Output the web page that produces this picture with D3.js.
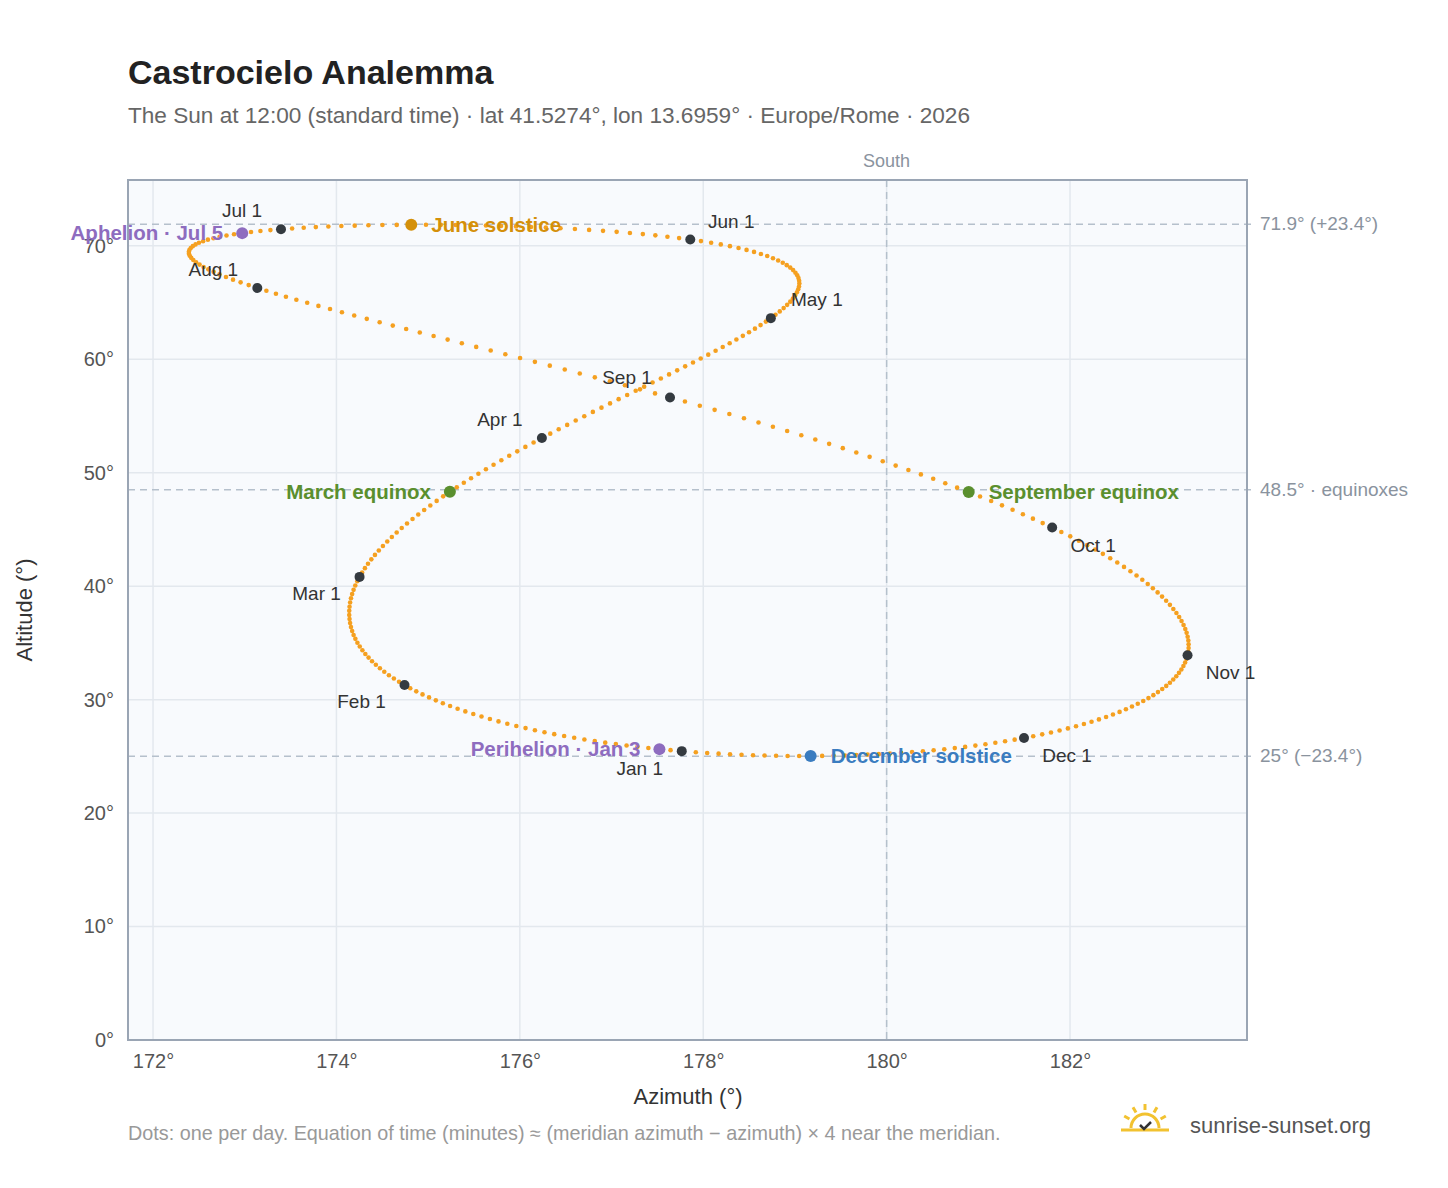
<!DOCTYPE html>
<html><head><meta charset="utf-8">
<script src="https://cdn.jsdelivr.net/npm/d3@7"></script>
<style>body{margin:0;background:#fff;font-family:"Liberation Sans",Arial,sans-serif}</style>
</head><body><svg id="c" width="1448" height="1188"></svg>
<script>
// ---- data ----
const YEAR = 2026, LAT = 41.5274, LON = 13.6959, TZ = 1, CLOCK_HOUR = 12;
const xTicks = [172,174,176,178,180,182];
const yTicks = [0,10,20,30,40,50,60,70];
const monthLabels = ["Jan 1","Feb 1","Mar 1","Apr 1","May 1","Jun 1","Jul 1","Aug 1","Sep 1","Oct 1","Nov 1","Dec 1"];
const monthDx = [-42,-43,-43,-42,46,41,-39,-44,-43,41,43,43];
const monthDy = [18,17,17,-18,-18,-18,-18,-18,-19,18,18,18];
const eventNames = ["Perihelion · Jan 3","March equinox","June solstice","Aphelion · Jul 5","September equinox","December solstice"];
const eventDates = [[0,3],[2,20],[5,21],[6,5],[8,23],[11,21]];
const eventColors = ["#8e6cbf","#5a8f2e","#d4900a","#8e6cbf","#5a8f2e","#3a7cc0"];
const eventSide = ["left","left","right","left","right","right"];
const refAlts = [71.9,48.5,25];
const refLabels = ["71.9° (+23.4°)","48.5° · equinoxes","25° (−23.4°)"];

// sun position (NOAA spreadsheet / Meeus)
const rad = Math.PI/180;
function sunAt(date){
  const utcH = CLOCK_HOUR - TZ;
  const jd = (date.getTime() + utcH*3600e3)/864e5 + 2440587.5;
  const T = (jd-2451545)/36525;
  const L0 = ((280.46646 + T*(36000.76983+T*0.0003032))%360+360)%360;
  const M = 357.52911 + T*(35999.05029 - 0.0001537*T);
  const e = 0.016708634 - T*(0.000042037+0.0000001267*T);
  const C = Math.sin(M*rad)*(1.914602 - T*(0.004817+0.000014*T)) + Math.sin(2*M*rad)*(0.019993-0.000101*T) + Math.sin(3*M*rad)*0.000289;
  const om = 125.04 - 1934.136*T;
  const lam = L0 + C - 0.00569 - 0.00478*Math.sin(om*rad);
  const eps0 = 23 + (26 + (21.448 - T*(46.815 + T*(0.00059 - T*0.001813)))/60)/60;
  const eps = eps0 + 0.00256*Math.cos(om*rad);
  const dec = Math.asin(Math.sin(eps*rad)*Math.sin(lam*rad));
  const yy = Math.tan(eps*rad/2)**2;
  const eqt = 4/rad*(yy*Math.sin(2*L0*rad) - 2*e*Math.sin(M*rad) + 4*e*yy*Math.sin(M*rad)*Math.cos(2*L0*rad) - 0.5*yy*yy*Math.sin(4*L0*rad) - 1.25*e*e*Math.sin(2*M*rad));
  const tst = CLOCK_HOUR*60 + eqt + 4*LON - 60*TZ;
  const ha = (tst/4-180)*rad, lat = LAT*rad;
  const sinAlt = Math.sin(lat)*Math.sin(dec)+Math.cos(lat)*Math.cos(dec)*Math.cos(ha);
  const alt = Math.asin(sinAlt)/rad;
  const az = Math.atan2(Math.sin(ha), Math.cos(ha)*Math.sin(lat)-Math.tan(dec)*Math.cos(lat))/rad+180;
  return {az,alt};
}
const days = d3.utcDays(new Date(Date.UTC(YEAR,0,1)), new Date(Date.UTC(YEAR+1,0,1))).map(sunAt);

// ---- chart ----
const svg = d3.select("#c");
const L=128,R=1247,T=180,B=1040;
const x = d3.scaleLinear().domain([171.727,183.93]).range([L,R]);
const y = d3.scaleLinear().domain([0,75.8]).range([B,T]);

svg.append("text").attr("x",128).attr("y",84).attr("font-size",34).attr("font-weight","bold").attr("fill","#222").text("Castrocielo Analemma");
svg.append("text").attr("x",128).attr("y",123).attr("font-size",22.6).attr("fill","#666").text("The Sun at 12:00 (standard time) · lat 41.5274°, lon 13.6959° · Europe/Rome · 2026");

svg.append("rect").attr("x",L).attr("y",T).attr("width",R-L).attr("height",B-T).attr("fill","#f8fafd");
const grid = svg.append("g").attr("stroke","#e3e8ee").attr("stroke-width",1.5);
xTicks.forEach(t=>grid.append("line").attr("x1",x(t)).attr("x2",x(t)).attr("y1",T).attr("y2",B));
yTicks.forEach(t=>grid.append("line").attr("x1",L).attr("x2",R).attr("y1",y(t)).attr("y2",y(t)));

const xa = svg.append("g").attr("transform",`translate(0,${B})`).call(d3.axisBottom(x).tickValues(xTicks).tickFormat(d=>d+"°").tickSize(0).tickPadding(14));
const ya = svg.append("g").attr("transform",`translate(${L},0)`).call(d3.axisLeft(y).tickValues(yTicks).tickFormat(d=>d+"°").tickSize(0).tickPadding(14));
[xa,ya].forEach(a=>{a.select(".domain").remove();a.selectAll("text").attr("font-size",20).attr("fill","#555").attr("font-family","Liberation Sans, Arial");});

// reference lines
refAlts.forEach((a,i)=>{
  svg.append("line").attr("x1",L).attr("x2",R+6).attr("y1",y(a)).attr("y2",y(a)).attr("stroke","#b5c0cc").attr("stroke-width",1.5).attr("stroke-dasharray","7,5");
  svg.append("text").attr("x",1260).attr("y",y(a)+6).attr("font-size",19).attr("fill","#8a939e").text(refLabels[i]);
});
svg.append("line").attr("x1",x(180)).attr("x2",x(180)).attr("y1",T).attr("y2",B).attr("stroke","#b5c0cc").attr("stroke-width",1.5).attr("stroke-dasharray","7,5");
svg.append("text").attr("x",x(180)).attr("y",167).attr("text-anchor","middle").attr("font-size",18).attr("fill","#8a939e").text("South");

svg.append("rect").attr("x",L).attr("y",T).attr("width",R-L).attr("height",B-T).attr("fill","none").attr("stroke","#9aa5b4").attr("stroke-width",2);

// daily dots
svg.append("g").selectAll("circle").data(days).join("circle")
  .attr("cx",d=>x(d.az)).attr("cy",d=>y(d.alt)).attr("r",2.3).attr("fill","#f5a020");

// month markers
monthLabels.forEach((lab,m)=>{
  const p = sunAt(new Date(Date.UTC(YEAR,m,1)));
  svg.append("circle").attr("cx",x(p.az)).attr("cy",y(p.alt)).attr("r",5).attr("fill","#343a40");
  svg.append("text").attr("x",x(p.az)+monthDx[m]).attr("y",y(p.alt)+monthDy[m]+6).attr("text-anchor","middle").attr("font-size",19).attr("fill","#333").text(lab);
});
// events
eventNames.forEach((nm,i)=>{
  const p = sunAt(new Date(Date.UTC(YEAR,eventDates[i][0],eventDates[i][1])));
  svg.append("circle").attr("cx",x(p.az)).attr("cy",y(p.alt)).attr("r",6).attr("fill",eventColors[i]);
  const left = eventSide[i]==="left";
  svg.append("text").attr("x",x(p.az)+(left?-19:20)).attr("y",y(p.alt)+7).attr("text-anchor",left?"end":"start")
    .attr("font-size",20.5).attr("font-weight","bold").attr("fill",eventColors[i]).text(nm);
});

svg.append("text").attr("x",688).attr("y",1104).attr("text-anchor","middle").attr("font-size",22).attr("fill","#333").text("Azimuth (°)");
svg.append("text").attr("transform","translate(32,610) rotate(-90)").attr("text-anchor","middle").attr("font-size",22).attr("fill","#333").text("Altitude (°)");
svg.append("text").attr("x",128).attr("y",1140).attr("font-size",19.8).attr("fill","#999").text("Dots: one per day. Equation of time (minutes) ≈ (meridian azimuth − azimuth) × 4 near the meridian.");

// logo
const lg = svg.append("g").attr("transform","translate(1145,1128)");
lg.append("path").attr("d","M-14,0 A14,14 0 0 1 14,0").attr("fill","none").attr("stroke","#f2c230").attr("stroke-width",3);
[-60,-30,0,30,60].forEach(a=>{const r=a*rad;lg.append("line").attr("x1",Math.sin(r)*18).attr("y1",-Math.cos(r)*18).attr("x2",Math.sin(r)*24).attr("y2",-Math.cos(r)*24).attr("stroke","#f2c230").attr("stroke-width",3);});
lg.append("line").attr("x1",-24).attr("x2",24).attr("y1",2).attr("y2",2).attr("stroke","#f2c230").attr("stroke-width",3);
lg.append("path").attr("d","M-5,-3 L-1,1 L6,-6").attr("fill","none").attr("stroke","#333").attr("stroke-width",2.5);
svg.append("text").attr("x",1190).attr("y",1133).attr("font-size",22).attr("fill","#555").text("sunrise-sunset.org");
</script></body></html>
